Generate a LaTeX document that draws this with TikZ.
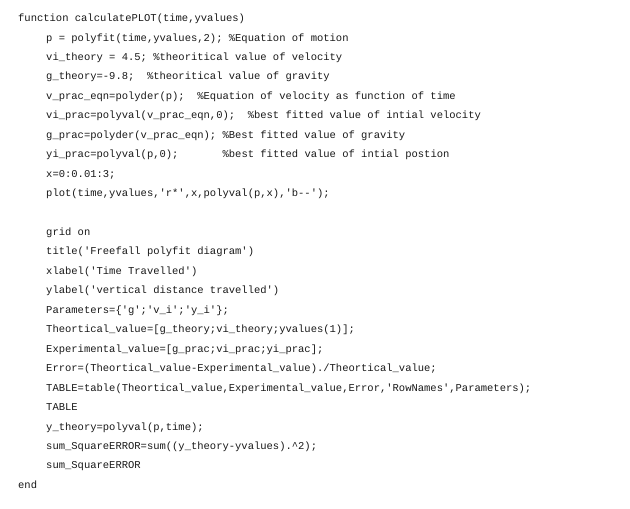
\documentclass[tikz,border=0pt]{standalone}
\usepackage{fontspec}
\newfontfamily\codefont{Liberation Mono}
\begin{document}
\begin{tikzpicture}[x=1pt,y=1pt,
  codeline/.style={anchor=base west,inner sep=0pt,font=\codefont\fontsize{10.5}{12}\selectfont,text=black!90}]
\useasboundingbox[fill=white] (0,0) rectangle (630,-509);
\node[codeline] (l1) at (18,-21) {function calculatePLOT(time,yvalues)};
\node[codeline] (l2) at (46,-41) {p = polyfit(time,yvalues,2); \%Equation of motion};
\node[codeline] (l3) at (46,-60) {vi\_theory = 4.5; \%theoritical value of velocity};
\node[codeline] (l4) at (46,-79.5) {g\_theory=-9.8;\ \ \%theoritical value of gravity};
\node[codeline] (l5) at (46,-99) {v\_prac\_eqn=polyder(p);\ \ \%Equation of velocity as function of time};
\node[codeline] (l6) at (46,-118.5) {vi\_prac=polyval(v\_prac\_eqn,0);\ \ \%best fitted value of intial velocity};
\node[codeline] (l7) at (46,-138) {g\_prac=polyder(v\_prac\_eqn); \%Best fitted value of gravity};
\node[codeline] (l8) at (46,-157.5) {yi\_prac=polyval(p,0);\ \ \ \ \ \ \ \%best fitted value of intial postion};
\node[codeline] (l9) at (46,-177) {x=0:0.01:3;};
\node[codeline] (l10) at (46,-196) {plot(time,yvalues,'r*',x,polyval(p,x),'b--');};
\node[codeline] (l11) at (46,-235) {grid on};
\node[codeline] (l12) at (46,-254.5) {title('Freefall polyfit diagram')};
\node[codeline] (l13) at (46,-274) {xlabel('Time Travelled')};
\node[codeline] (l14) at (46,-293.5) {ylabel('vertical distance travelled')};
\node[codeline] (l15) at (46,-313) {Parameters=\{'g';'v\_i';'y\_i'\};};
\node[codeline] (l16) at (46,-332.5) {Theortical\_value=[g\_theory;vi\_theory;yvalues(1)];};
\node[codeline] (l17) at (46,-352) {Experimental\_value=[g\_prac;vi\_prac;yi\_prac];};
\node[codeline] (l18) at (46,-371.5) {Error=(Theortical\_value-Experimental\_value)./Theortical\_value;};
\node[codeline] (l19) at (46,-391) {TABLE=table(Theortical\_value,Experimental\_value,Error,'RowNames',Parameters);};
\node[codeline] (l20) at (46,-410.5) {TABLE};
\node[codeline] (l21) at (46,-430) {y\_theory=polyval(p,time);};
\node[codeline] (l22) at (46,-449) {sum\_SquareERROR=sum((y\_theory-yvalues).\textasciicircum 2);};
\node[codeline] (l23) at (46,-468.5) {sum\_SquareERROR};
\node[codeline] (l24) at (18,-488) {end};
\end{tikzpicture}
\end{document}
